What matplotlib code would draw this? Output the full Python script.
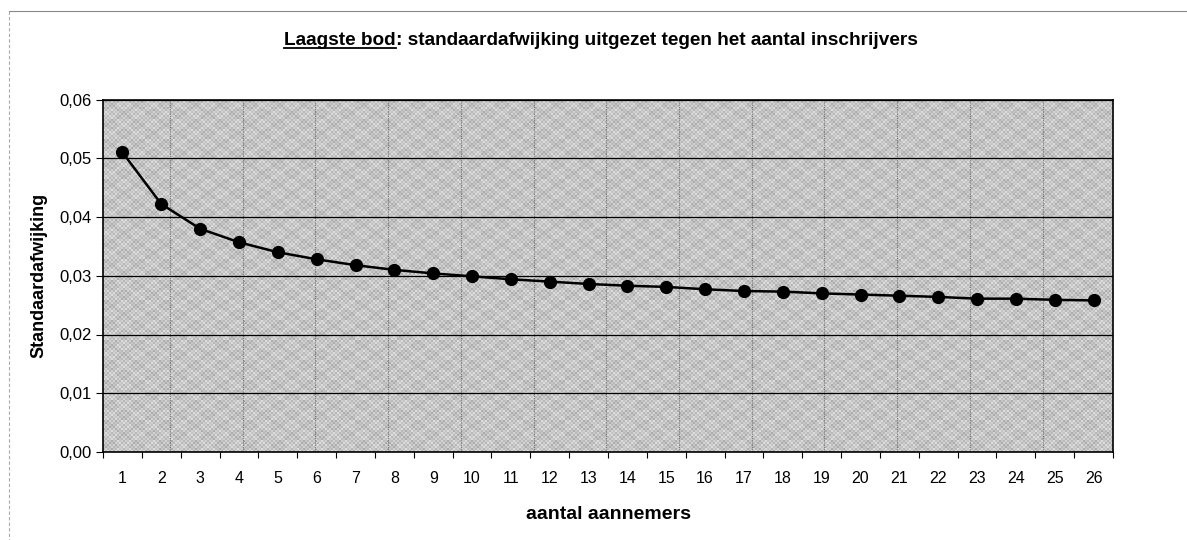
import matplotlib
matplotlib.use("Agg")
import matplotlib.pyplot as plt
from matplotlib.lines import Line2D
import numpy as np

plt.rcParams['font.family'] = ['Liberation Sans', 'DejaVu Sans']

# number of bidders (category axis)
aantal = list(range(1, 27))
# standard deviation of the lowest bid per number of bidders
std_dev = [0.0510, 0.0422, 0.0380, 0.0357, 0.0340, 0.0328, 0.0318, 0.0310,
           0.0304, 0.0299, 0.0294, 0.0290, 0.0286, 0.0283, 0.0281, 0.0277,
           0.0274, 0.0273, 0.0270, 0.0268, 0.0266, 0.0264, 0.0261, 0.0261,
           0.0259, 0.0258]
y_ticks = [0.00, 0.01, 0.02, 0.03, 0.04, 0.05, 0.06]
y_tick_labels = ["0,00", "0,01", "0,02", "0,03", "0,04", "0,05", "0,06"]

W, H = 1187, 540
fig = plt.figure(figsize=(W / 100, H / 100), dpi=100)
fig.patch.set_facecolor("white")

ax = fig.add_axes([103 / W, 1 - 452 / H, (1113 - 103) / W, (452 - 99.5) / H])
ax.set_facecolor("#c4c4c4")

# fine dither texture on the plot background
n_x, n_y = 505, 176
ii, jj = np.meshgrid(np.arange(n_x), np.arange(n_y))
tex = (0.77 + 0.05 * (((ii + jj) % 2) * 2 - 1)
       + 0.025 * (((ii // 3 + jj // 2) % 2) * 2 - 1)
       + 0.02 * (((ii // 7 + jj // 5) % 2) * 2 - 1))
ax.imshow(tex, cmap="gray", vmin=0, vmax=1, extent=[0, 1, 0, 1],
          transform=ax.transAxes, aspect="auto", interpolation="nearest", zorder=0)

# faint vertical print lines across the plot background
line_pos = [0.0663 + 0.072 * k for k in range(13)]
ax.vlines(line_pos, 0, 1, transform=ax.transAxes, colors="#5a5a5a", lw=0.8,
          linestyles=(0, (1, 1)), alpha=0.75, zorder=1)

ax.set_ylim(0, 0.06)
ax.set_xlim(0.5, len(aantal) + 0.5)
ax.set_yticks(y_ticks)
ax.set_yticklabels(y_tick_labels, fontsize=12)
ax.set_xticks(aantal)
ax.set_xticklabels([str(a) for a in aantal], fontsize=11.5)
ax.tick_params(axis="x", length=0, pad=14)
ax.tick_params(axis="y", length=5, width=0.8, pad=3, direction="out")
# category boundary ticks
ax.set_xticks(np.arange(0.5, len(aantal) + 1, 1), minor=True)
ax.tick_params(axis="x", which="minor", length=4, width=0.8, direction="out")

ax.yaxis.grid(True, color="black", lw=0.9, zorder=2)
ax.set_axisbelow(False)
for s in ax.spines.values():
    s.set_color("black")
    s.set_linewidth(1.2)

ax.plot(aantal, std_dev, color="black", lw=1.8, marker="o", markersize=8.5,
        markerfacecolor="black", markeredgecolor="black", zorder=4)

ax.set_xlabel("aantal aannemers", fontsize=14, fontweight="bold", labelpad=14)
ax.set_ylabel("Standaardafwijking", fontsize=13, fontweight="bold", labelpad=9)

# title with the underlined first part
ty = 1 - 45 / H
t1 = fig.text(0, ty, "Laagste bod", fontsize=13.7, fontweight="bold", va="baseline", ha="left")
t2 = fig.text(0, ty, ": standaardafwijking uitgezet tegen het aantal inschrijvers",
              fontsize=13.7, fontweight="bold", va="baseline", ha="left")
fig.canvas.draw()
r = fig.canvas.get_renderer()
w1 = t1.get_window_extent(r).width
w2 = t2.get_window_extent(r).width
x0 = 601 - (w1 + w2) / 2
t1.set_x(x0 / W)
t2.set_x((x0 + w1) / W)
fig.add_artist(Line2D([x0 / W, (x0 + w1) / W], [ty - 2.5 / H, ty - 2.5 / H],
                      color="black", lw=1.3, transform=fig.transFigure))

# outer chart frame (top and left edges)
fig.add_artist(Line2D([9 / W, 1.0], [1 - 11 / H, 1 - 11 / H], color="#888888",
                      lw=0.8, transform=fig.transFigure))
fig.add_artist(Line2D([9 / W, 9 / W], [1 - 11 / H, 0.0], color="#aaaaaa",
                      lw=0.8, ls=(0, (3, 2)), transform=fig.transFigure))

fig.savefig("out.png", dpi=100)
